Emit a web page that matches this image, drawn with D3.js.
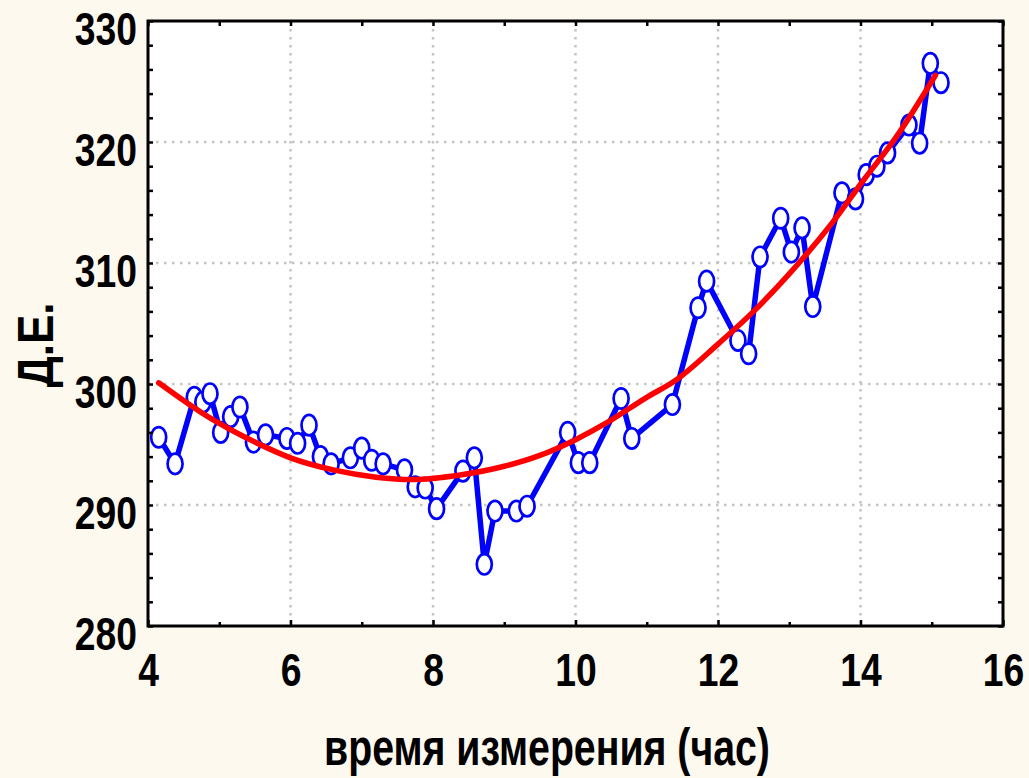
<!DOCTYPE html>
<html>
<head>
<meta charset="utf-8">
<script src="https://cdn.jsdelivr.net/npm/d3@7"></script>
<style>
  html, body { margin: 0; padding: 0; background: #fef9ee; }
  svg { display: block; }
  .lbl { font-family: "Liberation Sans Narrow", "Arial Narrow", "Liberation Sans", Arial, sans-serif; font-weight: bold; fill: #000; }
</style>
</head>
<body>
<svg id="chart" width="1029" height="778"></svg>
<script>
// ---- data ----
const timeHours = [4.15, 4.38, 4.65, 4.77, 4.87, 5.02, 5.16, 5.29, 5.48, 5.65, 5.95, 6.10, 6.26, 6.42, 6.57,
  6.84, 7.00, 7.14, 7.30, 7.60, 7.75, 7.89, 8.05, 8.42, 8.58, 8.72, 8.87, 9.17, 9.32, 9.89,
  10.04, 10.20, 10.64, 10.79, 11.36, 11.72, 11.84, 12.28, 12.43, 12.59, 12.88, 13.03, 13.18, 13.33,
  13.74, 13.93, 14.08, 14.23, 14.38, 14.68, 14.83, 14.98, 15.13];
const measuredDE = [295.6, 293.4, 298.9, 298.5, 299.2, 296.0, 297.3, 298.1, 295.2, 295.8, 295.5, 295.1, 296.6, 294.0, 293.4,
  293.9, 294.7, 293.7, 293.4, 292.9, 291.5, 291.4, 289.7, 292.8, 293.9, 285.1, 289.5, 289.5, 289.9, 296.0,
  293.5, 293.5, 298.8, 295.5, 298.3, 306.3, 308.5, 303.6, 302.5, 310.5, 313.7, 310.9, 312.9, 306.4,
  315.8, 315.3, 317.3, 318.0, 319.1, 321.4, 319.9, 326.5, 324.9];
// fitted (red) curve
const fitHours = [4.15, 4.84, 5.5, 6.0, 6.6, 7.2, 7.7, 8.4, 9.0, 9.5, 10.0, 10.44, 11.0, 11.38, 12.0, 12.5, 13.0, 13.6, 14.05, 14.5, 15.05];
const fitDE    = [300.1, 297.3, 295.2, 293.9, 292.9, 292.3, 292.1, 292.5, 293.2, 294.1, 295.4, 296.8, 298.9, 300.2, 303.3, 306.0, 309.1, 313.3, 316.9, 320.4, 325.5];
const xMajorTicks = [4, 6, 8, 10, 12, 14, 16];
const xMinorTicks = [5, 7, 9, 11, 13, 15];
const yMajorTicks = [280, 290, 300, 310, 320, 330];
const yMinorTicks = [282, 284, 286, 288, 292, 294, 296, 298, 302, 304, 306, 308, 312, 314, 316, 318, 322, 324, 326, 328];
const xTitle = "время измерения (час)";
const yTitle = "Д.Е.";

// ---- drawing ----
const svg = d3.select("#chart");
const L = 148, R = 1003, T = 21, B = 626;
const x = d3.scaleLinear().domain([4, 16]).range([L, R]);
const y = d3.scaleLinear().domain([280, 330]).range([B, T]);
const NARROW = 0.81;

svg.append("rect").attr("x", 0).attr("y", 0).attr("width", 1029).attr("height", 778).attr("fill", "#fef9ee");
svg.append("rect").attr("x", L).attr("y", T).attr("width", R - L).attr("height", B - T).attr("fill", "#fff");

// grid
const grid = svg.append("g").attr("stroke", "#c4c4c4").attr("stroke-width", 2.5).attr("stroke-dasharray", "2.5,5.5");
grid.selectAll(".gx").data(xMajorTicks.filter(v => v > 4 && v < 16)).join("line")
  .attr("x1", d => x(d)).attr("x2", d => x(d)).attr("y1", T).attr("y2", B);
grid.selectAll(".gy").data(yMajorTicks.filter(v => v > 280 && v < 330)).join("line")
  .attr("y1", d => y(d)).attr("y2", d => y(d)).attr("x1", L).attr("x2", R);

const pts = timeHours.map((t, i) => [t, measuredDE[i]]);
const fit = fitHours.map((t, i) => [t, fitDE[i]]);

svg.append("path").datum(pts)
  .attr("d", d3.line().x(d => x(d[0])).y(d => y(d[1])))
  .attr("fill", "none").attr("stroke", "#0000ff").attr("stroke-width", 5.5).attr("stroke-linejoin", "round");

svg.append("g").selectAll("ellipse").data(pts).join("ellipse")
  .attr("cx", d => x(d[0])).attr("cy", d => y(d[1]))
  .attr("rx", 7.5).attr("ry", 10.2)
  .attr("fill", "#fff").attr("stroke", "#0000ff").attr("stroke-width", 2.7);

svg.append("path").datum(fit)
  .attr("d", d3.line().curve(d3.curveMonotoneX).x(d => x(d[0])).y(d => y(d[1])))
  .attr("fill", "none").attr("stroke", "#ff0000").attr("stroke-width", 5.5).attr("stroke-linecap", "round");

// axes
function styleAxis(g) {
  g.select(".domain").remove();
  g.selectAll(".tick line").attr("stroke", "#000").attr("stroke-width", 2.5);
  g.selectAll(".tick text").attr("class", "lbl").style("font-size", "46px");
}
const xAx = svg.append("g").attr("transform", `translate(0,${B})`)
  .call(d3.axisBottom(x).tickValues(xMajorTicks).tickSize(-6).tickPadding(27).tickFormat(d3.format("d")))
  .call(styleAxis);
xAx.selectAll(".tick text").attr("transform", `scale(${NARROW},1)`);
svg.append("g").attr("transform", `translate(0,${B})`)
  .call(d3.axisBottom(x).tickValues(xMinorTicks).tickSize(-4).tickFormat(""))
  .call(styleAxis);
svg.append("g").attr("transform", `translate(0,${T})`)
  .call(d3.axisTop(x).tickValues(xMajorTicks.concat(xMinorTicks)).tickSize(-5).tickFormat(""))
  .call(styleAxis);
const yAx = svg.append("g").attr("transform", `translate(${L},0)`)
  .call(d3.axisLeft(y).tickValues(yMajorTicks).tickSize(-5).tickPadding(11).tickFormat(d3.format("d")))
  .call(styleAxis);
yAx.selectAll(".tick text").attr("dy", "23px").attr("x", -11 / NARROW).attr("transform", `scale(${NARROW},1)`);
svg.append("g").attr("transform", `translate(${L},0)`)
  .call(d3.axisLeft(y).tickValues(yMinorTicks).tickSize(-5).tickFormat(""))
  .call(styleAxis);
svg.append("g").attr("transform", `translate(${R},0)`)
  .call(d3.axisRight(y).tickValues(yMajorTicks.concat(yMinorTicks)).tickSize(-5).tickFormat(""))
  .call(styleAxis);

// frame
svg.append("rect").attr("x", L).attr("y", T).attr("width", R - L).attr("height", B - T)
  .attr("fill", "none").attr("stroke", "#000").attr("stroke-width", 3);

// titles
svg.append("text").attr("class", "lbl")
  .attr("transform", "translate(547,765) scale(0.755,1)")
  .attr("text-anchor", "middle").style("font-size", "52px").text(xTitle);
svg.append("text").attr("class", "lbl")
  .attr("transform", "translate(53,345) rotate(-90) scale(0.88,1)")
  .attr("text-anchor", "middle").style("font-size", "50px").text(yTitle);
</script>
</body>
</html>
